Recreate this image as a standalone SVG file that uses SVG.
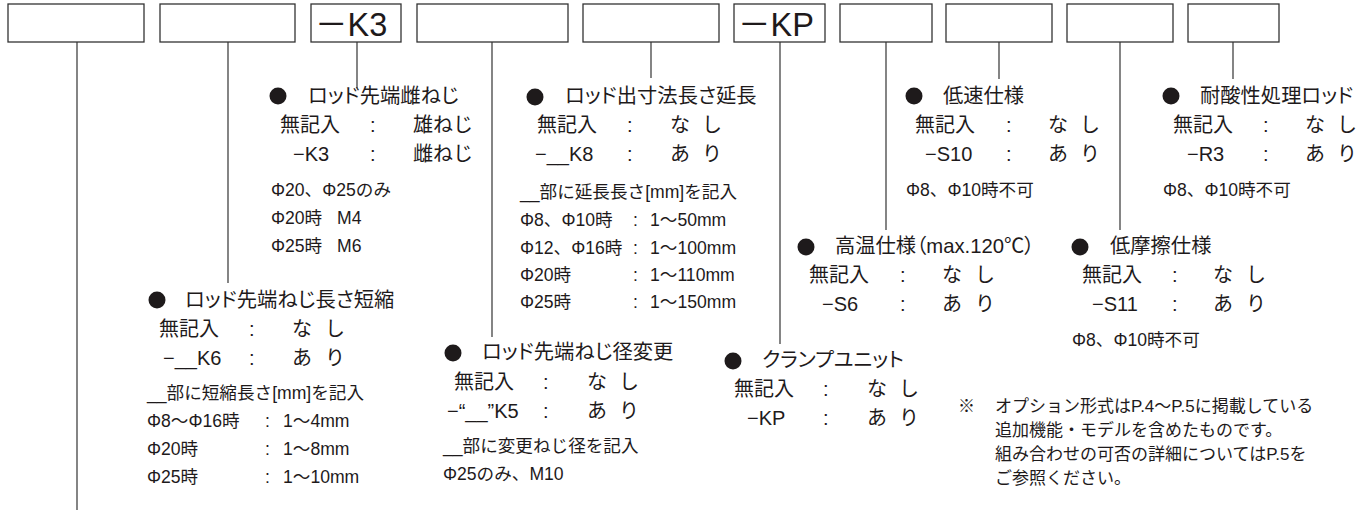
<svg xmlns="http://www.w3.org/2000/svg" width="1369" height="515" viewBox="0 0 1369 515">
<style>
.box{fill:#fff;stroke:#333;stroke-width:1.3}
.conn line{stroke:#333;stroke-width:1.2}
text{font-family:"Liberation Sans","Noto Sans CJK JP",sans-serif;fill:#1e1a1b}
.t{font-size:20.3px;font-feature-settings:"palt"}
.r{font-size:20px}
.s{font-size:17.6px}
.n{font-size:17px}
.code{font-size:32.5px}
.dot{fill:#1e1a1b}
</style>
<rect width="1369" height="515" fill="#fff"/>
<g id="boxes">
<g id="box1"><rect class="box" x="8" y="4" width="136" height="38"/></g>
<g id="box2"><rect class="box" x="160" y="4" width="135" height="38"/></g>
<g id="box3"><rect class="box" x="311" y="4" width="90" height="38"/><text class="code" x="315" y="35.5">－K3</text></g>
<g id="box4"><rect class="box" x="417" y="4" width="151" height="38"/></g>
<g id="box5"><rect class="box" x="583" y="4" width="136" height="38"/></g>
<g id="box6"><rect class="box" x="734" y="4" width="91" height="38"/><text class="code" x="738" y="35.5">－KP</text></g>
<g id="box7"><rect class="box" x="840" y="4" width="92" height="38"/></g>
<g id="box8"><rect class="box" x="946" y="4" width="106" height="38"/></g>
<g id="box9"><rect class="box" x="1067" y="4" width="106" height="38"/></g>
<g id="box10"><rect class="box" x="1188" y="4" width="91" height="38"/></g>
</g>
<g id="connectors" class="conn">
<line x1="77" y1="42" x2="77" y2="510"/>
<line x1="228" y1="42" x2="228" y2="283"/>
<line x1="357" y1="42" x2="357" y2="88"/>
<line x1="492" y1="42" x2="492" y2="337"/>
<line x1="651" y1="42" x2="651" y2="78"/>
<line x1="780" y1="42" x2="780" y2="344"/>
<line x1="886" y1="42" x2="886" y2="230"/>
<line x1="999" y1="42" x2="999" y2="79"/>
<line x1="1120" y1="42" x2="1120" y2="230"/>
<line x1="1233" y1="42" x2="1233" y2="79"/>
</g>
<g id="opt-k6">
<circle class="dot" cx="157" cy="300" r="8.5"/>
<text class="t" x="185" y="307">ロッド先端ねじ長さ短縮</text>
<text class="r" x="159" y="336">無記入</text><text class="r" x="249" y="336">:</text><text class="r" x="292" y="336">な <tspan x="325">し</tspan></text>
<text class="r" x="163" y="365">−__K6</text><text class="r" x="249" y="365">:</text><text class="r" x="292" y="365">あ <tspan x="325">り</tspan></text>
<text class="s" x="147" y="399">__部に短縮長さ[mm]を記入</text>
<text class="s" x="147" y="427">Φ8～Φ16時</text><text class="s" x="265" y="427">:</text><text class="s" x="283" y="427">1～4mm</text>
<text class="s" x="147" y="455">Φ20時</text><text class="s" x="265" y="455">:</text><text class="s" x="283" y="455">1～8mm</text>
<text class="s" x="147" y="483">Φ25時</text><text class="s" x="265" y="483">:</text><text class="s" x="283" y="483">1～10mm</text>
</g>
<g id="opt-k3">
<circle class="dot" cx="278" cy="96" r="8.5"/>
<text class="t" x="308" y="103">ロッド先端雌ねじ</text>
<text class="r" x="280" y="132">無記入</text><text class="r" x="370" y="132">:</text><text class="r" x="413" y="132">雄ねじ</text>
<text class="r" x="293" y="161">−K3</text><text class="r" x="370" y="161">:</text><text class="r" x="413" y="161">雌ねじ</text>
<text class="s" x="271" y="196">Φ20、Φ25のみ</text>
<text class="s" x="271" y="224">Φ20時</text><text class="s" x="337" y="224">M4</text>
<text class="s" x="271" y="252">Φ25時</text><text class="s" x="337" y="252">M6</text>
</g>
<g id="opt-k8">
<circle class="dot" cx="535" cy="97" r="8.5"/>
<text class="t" x="565" y="103">ロッド出寸法長さ延長</text>
<text class="r" x="537" y="132">無記入</text><text class="r" x="627" y="132">:</text><text class="r" x="670" y="132">な <tspan x="702">し</tspan></text>
<text class="r" x="535" y="161">−__K8</text><text class="r" x="627" y="161">:</text><text class="r" x="670" y="161">あ <tspan x="702">り</tspan></text>
<text class="s" x="520" y="198">__部に延長長さ[mm]を記入</text>
<text class="s" x="520" y="226">Φ8、Φ10時</text><text class="s" x="633" y="226">:</text><text class="s" x="650" y="226">1～50mm</text>
<text class="s" x="520" y="254">Φ12、Φ16時</text><text class="s" x="633" y="254">:</text><text class="s" x="650" y="254">1～100mm</text>
<text class="s" x="520" y="281">Φ20時</text><text class="s" x="633" y="281">:</text><text class="s" x="650" y="281">1～110mm</text>
<text class="s" x="520" y="308">Φ25時</text><text class="s" x="633" y="308">:</text><text class="s" x="650" y="308">1～150mm</text>
</g>
<g id="opt-k5">
<circle class="dot" cx="453" cy="353" r="8.5"/>
<text class="t" x="482" y="359">ロッド先端ねじ径変更</text>
<text class="r" x="454" y="389">無記入</text><text class="r" x="543" y="389">:</text><text class="r" x="587" y="389">な <tspan x="619">し</tspan></text>
<text class="r" x="447" y="418">−“__”K5</text><text class="r" x="543" y="418">:</text><text class="r" x="587" y="418">あ <tspan x="619">り</tspan></text>
<text class="s" x="443" y="452">__部に変更ねじ径を記入</text>
<text class="s" x="443" y="480">Φ25のみ、M10</text>
</g>
<g id="opt-kp">
<circle class="dot" cx="733" cy="361" r="8.5"/>
<text class="t" x="762" y="367">クランプユニット</text>
<text class="r" x="734" y="396">無記入</text><text class="r" x="823" y="396">:</text><text class="r" x="867" y="396">な <tspan x="899">し</tspan></text>
<text class="r" x="747" y="425">−KP</text><text class="r" x="823" y="425">:</text><text class="r" x="867" y="425">あ <tspan x="899">り</tspan></text>
</g>
<g id="opt-s10">
<circle class="dot" cx="914" cy="96" r="8.5"/>
<text class="t" x="943" y="103">低速仕様</text>
<text class="r" x="915" y="132">無記入</text><text class="r" x="1006" y="132">:</text><text class="r" x="1048" y="132">な <tspan x="1080">し</tspan></text>
<text class="r" x="925" y="161">−S10</text><text class="r" x="1006" y="161">:</text><text class="r" x="1048" y="161">あ <tspan x="1080">り</tspan></text>
<text class="s" x="906" y="196">Φ8、Φ10時不可</text>
</g>
<g id="opt-s6">
<circle class="dot" cx="806" cy="247" r="8.5"/>
<text class="t" x="835" y="253">高温仕様（max.120℃）</text>
<text class="r" x="809" y="282">無記入</text><text class="r" x="900" y="282">:</text><text class="r" x="942" y="282">な <tspan x="975">し</tspan></text>
<text class="r" x="822" y="311">−S6</text><text class="r" x="900" y="311">:</text><text class="r" x="942" y="311">あ <tspan x="975">り</tspan></text>
</g>
<g id="opt-r3">
<circle class="dot" cx="1171" cy="96" r="8.5"/>
<text class="t" x="1200" y="103">耐酸性処理ロッド</text>
<text class="r" x="1173" y="132">無記入</text><text class="r" x="1263" y="132">:</text><text class="r" x="1305" y="132">な <tspan x="1337">し</tspan></text>
<text class="r" x="1187" y="161">−R3</text><text class="r" x="1263" y="161">:</text><text class="r" x="1305" y="161">あ <tspan x="1337">り</tspan></text>
<text class="s" x="1163" y="196">Φ8、Φ10時不可</text>
</g>
<g id="opt-s11">
<circle class="dot" cx="1080" cy="247" r="8.5"/>
<text class="t" x="1110" y="253">低摩擦仕様</text>
<text class="r" x="1082" y="282">無記入</text><text class="r" x="1172" y="282">:</text><text class="r" x="1213" y="282">な <tspan x="1246">し</tspan></text>
<text class="r" x="1092" y="311">−S11</text><text class="r" x="1172" y="311">:</text><text class="r" x="1213" y="311">あ <tspan x="1246">り</tspan></text>
<text class="s" x="1072" y="346">Φ8、Φ10時不可</text>
</g>
<g id="note">
<text class="n" x="958" y="412">※</text>
<text class="n" x="995" y="412">オプション形式はP.4～P.5に掲載している</text>
<text class="n" x="995" y="436">追加機能・モデルを含めたものです。</text>
<text class="n" x="995" y="460">組み合わせの可否の詳細についてはP.5を</text>
<text class="n" x="995" y="484">ご参照ください。</text>
</g>
</svg>
